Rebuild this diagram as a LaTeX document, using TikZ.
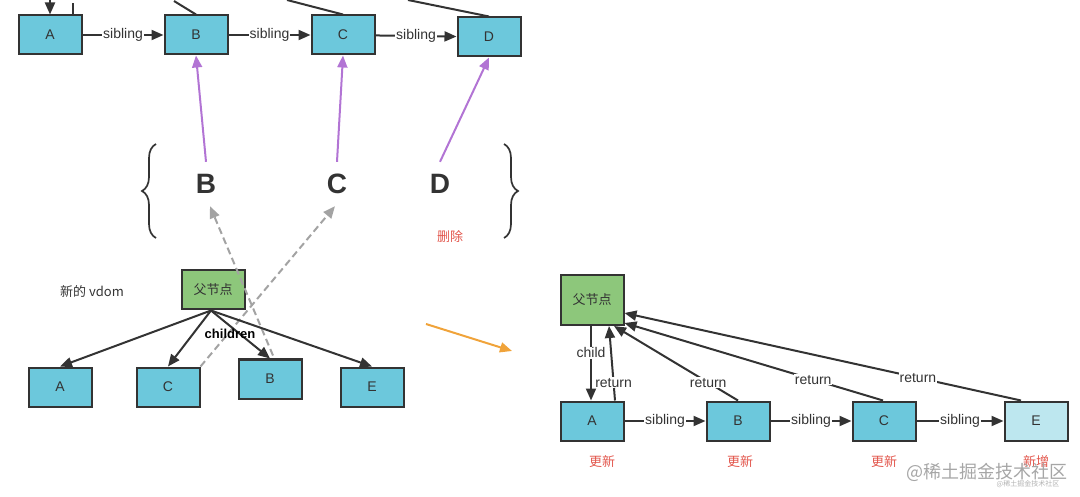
\documentclass[tikz,border=0pt]{standalone}
\usepackage{fontspec}
\setmainfont{Liberation Sans}
\newfontfamily\cjk{Noto Sans CJK SC}
\usetikzlibrary{arrows.meta,positioning,decorations.pathreplacing}

\definecolor{boxblue}{HTML}{6CC8DC}
\definecolor{newblue}{HTML}{BDE7EF}
\definecolor{boxgreen}{HTML}{8DC77B}
\definecolor{linegray}{HTML}{333333}
\definecolor{markred}{HTML}{E2554B}
\definecolor{purp}{HTML}{B274D4}
\definecolor{dashgray}{HTML}{A3A3A3}
\definecolor{orng}{HTML}{F0A33A}

\tikzset{
  vnode/.style={draw=linegray,line width=2pt,fill=boxblue,minimum width=63pt,
    minimum height=39pt,inner sep=0pt,text=linegray,font=\fontsize{14}{16}\selectfont},
  pnode/.style={vnode,fill=boxgreen,font=\cjk\fontsize{13}{15}\selectfont},
  lbl/.style={fill=white,inner sep=1pt,text=linegray,font=\fontsize{14}{16}\selectfont},
  redlbl/.style={text=markred,font=\cjk\fontsize{13}{15}\selectfont},
  letter/.style={minimum height=44pt,inner sep=0pt,text=linegray,font=\fontsize{28}{30}\selectfont\bfseries},
  tip/.style={-{Triangle[length=12pt,width=10pt]}},
  link/.style={tip,draw=linegray,line width=2pt},
  plink/.style={tip,draw=purp,line width=2pt},
  dlink/.style={tip,draw=dashgray,line width=2pt,dash pattern=on 7pt off 4pt},
}

\begin{document}
\begin{tikzpicture}[x=1pt,y=-1pt]
  \useasboundingbox (0,0) rectangle (1080,497);

  % old fiber row
  \node[vnode] (tA) at (50,35)  {A};
  \node[vnode] (tB) at (196,35) {B};
  \node[vnode] (tC) at (343,35) {C};
  \node[vnode] (tD) at (489,37) {D};
  \coordinate (inA) at (50,0);
  \coordinate (upA) at (73,3);
  \coordinate (upB) at (174,1);
  \coordinate (upC) at (287,0);
  \coordinate (upD) at (408,0);
  \draw[link] (inA) -- (tA.north);
  \draw[linegray,line width=2pt] ([xshift=23pt]tA.north) -- (upA);
  \draw[linegray,line width=2pt] (tB.north) -- (upB);
  \draw[linegray,line width=2pt] (tC.north) -- (upC);
  \draw[linegray,line width=2pt] (tD.north) -- (upD);
  \path
    (tA) edge[link] node[lbl] {sibling} (tB)
    (tB) edge[link] node[lbl] {sibling} (tC)
    (tC) edge[link] node[lbl] {sibling} (tD);

  % keys
  \node[letter] (lB) at (206,184) {B};
  \node[letter] (lC) at (337,184) {C};
  \node[letter] (lD) at (440,184) {D};
  \node[redlbl] (del) at (450,237) {删除};
  \draw[plink] (lB.north) -- (tB.south);
  \draw[plink] (lC.north) -- (tC.south);
  \draw[plink] (lD.north) -- (tD.south);
  \draw[linegray,line width=1.7pt,decorate,decoration={brace,amplitude=14pt}]
    (156,238) -- (156,144);
  \draw[linegray,line width=1.7pt,decorate,decoration={brace,amplitude=14pt}]
    (504,144) -- (504,238);

  % new vdom
  \node[text=linegray,font=\cjk\fontsize{13}{15}\selectfont] (vlbl) at (92,292) {新的 vdom};
  \node[pnode] (vP) at (213,290) {父节点};
  \node[vnode] (cA) at (60,387)  {A};
  \node[vnode] (cC) at (168,387) {C};
  \node[vnode] (cB) at (270,379) {B};
  \node[vnode] (cE) at (372,387) {E};
  \draw[dlink] ([xshift=3pt,yshift=3pt]cB.north) -- ([xshift=4pt]lB.south);
  \draw[dlink] (cC.north east) -- ([xshift=-2pt]lC.south);
  \coordinate (vroot) at ([xshift=-2pt]vP.south);
  \draw[link] (vroot) -- (cA.north);
  \draw[link] (vroot) -- (cC.north);
  \draw[link] (vroot) -- (cB.north);
  \draw[link] (vroot) -- (cE.north);
  \node[font=\fontsize{13}{15}\selectfont\bfseries] (chl) at (230,334) {children};

  % turn
  \coordinate (o1) at (426,324);
  \coordinate (o2) at (512,351);
  \draw[tip,orng,line width=2pt] (o1) -- (o2);

  % new fiber tree
  \node[pnode,minimum height=50pt] (rP) at (592,300) {父节点};
  \node[vnode] (rA) at (592,421)  {A};
  \node[vnode] (rB) at (738,421)  {B};
  \node[vnode] (rC) at (884,421)  {C};
  \node[vnode,fill=newblue] (rE) at (1036,421) {E};
  \draw[link] ([xshift=-1pt]rP.south) -- node[lbl,pos=0.36] {child} ([xshift=-1pt]rA.north);
  \draw[link] ([xshift=23pt]rA.north) -- node[lbl,pos=0.24] {return} ([xshift=17pt]rP.south);
  \draw[link] (rB.north) -- node[lbl,pos=0.24] {return} ([xshift=22pt]rP.south);
  \draw[link] ([xshift=-1pt]rC.north) -- node[lbl,pos=0.27] {return} ([yshift=3pt]rP.south east);
  \draw[link] ([xshift=-15pt]rE.north) -- node[lbl,pos=0.26] {return} ([yshift=-13pt]rP.east);
  \path
    (rA) edge[link] node[lbl] {sibling} (rB)
    (rB) edge[link] node[lbl] {sibling} (rC)
    (rC) edge[link] node[lbl] {sibling} (rE);
  \node[redlbl] (uA) at (602,462)  {更新};
  \node[redlbl] (uB) at (740,462)  {更新};
  \node[redlbl] (uC) at (884,462)  {更新};
  \node[redlbl] (uE) at (1036,462) {新增};

  % watermark
  \node[text=black!35,font=\cjk\fontsize{18}{20}\selectfont] (wm) at (987,472) {@稀土掘金技术社区};
  \node[text=black!30,font=\cjk\fontsize{7}{8}\selectfont] (wm2) at (1028,484) {@稀土掘金技术社区};
\end{tikzpicture}
\end{document}
